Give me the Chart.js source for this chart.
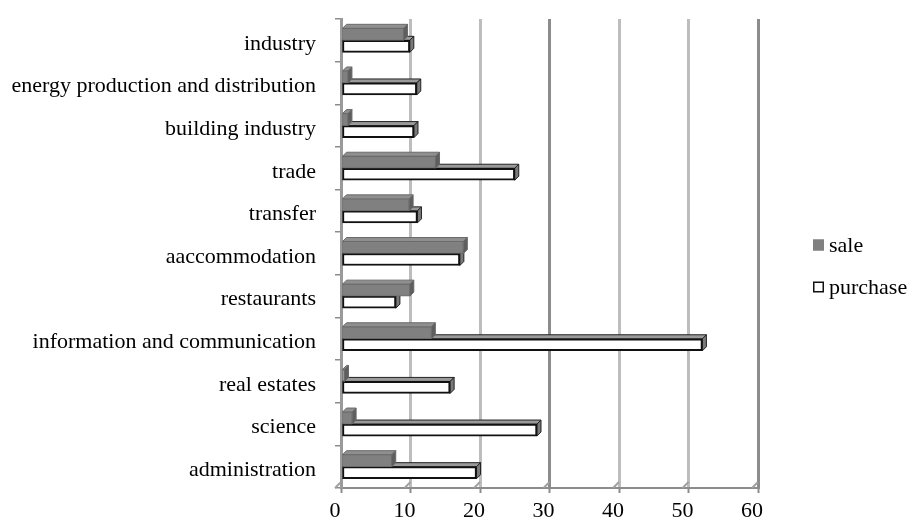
<!DOCTYPE html>
<html>
<head>
<meta charset="utf-8">
<script src="https://cdn.jsdelivr.net/npm/chart.js@4/dist/chart.umd.min.js"></script>
<style>
  html, body { margin: 0; padding: 0; background: #ffffff; }
  #wrap { width: 913px; height: 529px; position: relative; }
</style>
</head>
<body>
<div id="wrap"><canvas id="chart"></canvas></div>
<script>
// Sectors, top to bottom
const categories = [
  'industry',
  'energy production and distribution',
  'building industry',
  'trade',
  'transfer',
  'aaccommodation',
  'restaurants',
  'information and communication',
  'real estates',
  'science',
  'administration'
];

// Shares per sector
const saleValues     = [9.0, 1.0, 1.0, 13.6, 9.8, 17.6, 9.9, 13.0, 0.5, 1.6, 7.3];
const purchaseValues = [9.9, 10.9, 10.5, 25.0, 11.0, 17.1, 7.9, 52.0, 15.7, 28.2, 19.5];

// Value axis ticks
const xTicks = [0, 10, 20, 30, 40, 50, 60];

const FONT = "'Liberation Serif', 'Times New Roman', serif";

// Draws the top and right-hand faces of each bar so the bars look like boxes
const depthFaces = {
  id: 'depthFaces',
  beforeDatasetDraw(chart, args, opts) {
    const ctx = chart.ctx;
    const d = opts.depth;
    const face = opts.faces[args.index];
    ctx.save();
    ctx.lineJoin = 'round';
    args.meta.data.forEach(bar => {
      const { x, y, base, height } = bar.getProps(['x', 'y', 'base', 'height'], true);
      const top = y - height / 2;
      const bottom = y + height / 2;
      ctx.lineWidth = 1;
      ctx.strokeStyle = face.edge;
      // top face
      ctx.beginPath();
      ctx.moveTo(base, top);
      ctx.lineTo(base + d, top - d);
      ctx.lineTo(x + d, top - d);
      ctx.lineTo(x, top);
      ctx.closePath();
      ctx.fillStyle = face.top;
      ctx.fill();
      ctx.stroke();
      // end face
      ctx.beginPath();
      ctx.moveTo(x, top);
      ctx.lineTo(x + d, top - d);
      ctx.lineTo(x + d, bottom - d);
      ctx.lineTo(x, bottom);
      ctx.closePath();
      ctx.fillStyle = face.side;
      ctx.fill();
      ctx.stroke();
    });
    ctx.restore();
  }
};

// Short slanted floor strokes at the foot of every value gridline
const floorEdges = {
  id: 'floorEdges',
  beforeDatasetsDraw(chart, args, opts) {
    const { ctx, chartArea, scales } = chart;
    ctx.save();
    ctx.strokeStyle = opts.color;
    ctx.lineWidth = 2;
    scales.x.ticks.forEach(t => {
      const px = scales.x.getPixelForValue(t.value);
      ctx.beginPath();
      ctx.moveTo(px - opts.depth, chartArea.bottom);
      ctx.lineTo(px, chartArea.bottom - opts.depth);
      ctx.stroke();
    });
    ctx.restore();
  }
};

// Legend to the right of the plot: small square key followed by the series name
const sideLegend = {
  id: 'sideLegend',
  afterDraw(chart, args, opts) {
    const { ctx, chartArea } = chart;
    const sets = chart.data.datasets;
    const mid = (chartArea.top + chartArea.bottom) / 2 + opts.offsetY;
    ctx.save();
    ctx.font = opts.font;
    ctx.textBaseline = 'middle';
    ctx.textAlign = 'left';
    sets.forEach((ds, i) => {
      const cy = mid + (i - (sets.length - 1) / 2) * opts.spacing;
      const bx = chartArea.right + opts.offsetX;
      const s = opts.box;
      ctx.fillStyle = ds.backgroundColor;
      ctx.fillRect(bx, cy - s / 2, s, s);
      ctx.lineWidth = 1.5;
      ctx.strokeStyle = ds.legendEdge;
      ctx.strokeRect(bx + 0.75, cy - s / 2 + 0.75, s - 1.5, s - 1.5);
      ctx.fillStyle = '#000000';
      ctx.fillText(ds.label, bx + s + opts.gap, cy + 1);
    });
    ctx.restore();
  }
};

new Chart(document.getElementById('chart'), {
  type: 'bar',
  data: {
    labels: categories,
    datasets: [
      {
        label: 'sale',
        data: saleValues,
        backgroundColor: '#808080',
        borderColor: '#6a6a6a',
        borderWidth: 1,
        borderSkipped: false,
        legendEdge: '#808080',
        barThickness: 12
      },
      {
        label: 'purchase',
        data: purchaseValues,
        backgroundColor: '#ffffff',
        borderColor: '#111111',
        borderWidth: 2,
        borderSkipped: false,
        legendEdge: '#111111',
        barThickness: 12
      }
    ]
  },
  options: {
    indexAxis: 'y',
    responsive: true,
    maintainAspectRatio: false,
    animation: false,
    events: [],
    layout: { padding: { top: 19, right: 155, bottom: 6, left: 0 } },
    scales: {
      x: {
        type: 'linear',
        min: xTicks[0],
        max: xTicks[xTicks.length - 1],
        afterFit(scale) { scale.height = 35; },
        afterBuildTicks(scale) { scale.ticks = xTicks.map(v => ({ value: v })); },
        ticks: {
          font: { family: FONT, size: 22 },
          color: '#000000',
          padding: 5,
          labelOffset: -6
        },
        grid: {
          color: ctx => (ctx.tick && ctx.tick.value % 30 === 0 ? '#8c8c8c' : '#bdbdbd'),
          lineWidth: 3,
          tickColor: '#8c8c8c',
          tickWidth: 2,
          tickLength: 5
        },
        border: { display: true, color: '#8c8c8c', width: 2 }
      },
      y: {
        type: 'category',
        afterFit(scale) {
          scale.width = 341;
          scale.paddingTop = 0;
          scale.paddingBottom = 0;
        },
        ticks: {
          font: { family: FONT, size: 22 },
          color: '#000000',
          padding: 19,
          labelOffset: 3.5,
          autoSkip: false
        },
        grid: {
          drawOnChartArea: false,
          drawTicks: true,
          tickLength: 6,
          color: '#8c8c8c',
          lineWidth: 1.5
        },
        border: { display: true, color: '#9a9a9a', width: 3 }
      }
    },
    plugins: {
      legend: { display: false },
      tooltip: { enabled: false },
      depthFaces: {
        depth: 4,
        faces: [
          { top: '#8f8f8f', side: '#5e5e5e', edge: '#6a6a6a' },
          { top: '#9a9a9a', side: '#7a7a7a', edge: '#222222' }
        ]
      },
      floorEdges: { depth: 6, color: '#a0a0a0' },
      sideLegend: {
        font: "22px 'Liberation Serif', 'Times New Roman', serif",
        offsetX: 55,
        offsetY: 12.5,
        spacing: 42,
        box: 11,
        gap: 5
      }
    }
  },
  plugins: [floorEdges, depthFaces, sideLegend]
});
</script>
</body>
</html>
